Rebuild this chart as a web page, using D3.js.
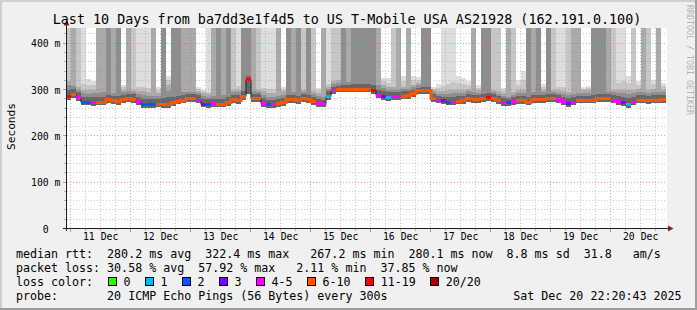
<!DOCTYPE html>
<html>
<head>
<meta charset="utf-8">
<script src="https://cdn.jsdelivr.net/npm/d3@7"></script>
<style>
  html, body { margin: 0; padding: 0; background: #f0f0f0; }
  svg { display: block; }
  text { font-family: "DejaVu Sans Mono", monospace; white-space: pre; }
</style>
</head>
<body>
<svg id="chart" width="697" height="310"></svg>
<script>
// 2 hour steps, Dec 10 22:20 -> Dec 20 22:20
const median = [
  285, 289, 282, 273, 273, 272, 273, 273, 278, 276,
  274, 278, 280, 278, 274, 267, 267, 267, 268, 267,
  267, 271, 275, 277, 280, 280, 277, 268, 267, 269,
  268, 268, 272, 279, 276, 284, 322, 280, 280, 270,
  267, 267, 269, 271, 279, 279, 276, 280, 278, 274,
  269, 268, 285, 297, 300, 300, 300, 301, 300, 300,
  300, 298, 288, 284, 282, 284, 284, 286, 287, 291,
  297, 298, 298, 281, 277, 276, 273, 273, 275, 276,
  280, 279, 279, 280, 283, 280, 276, 272, 271, 274,
  276, 276, 273, 279, 279, 279, 281, 280, 278, 274,
  270, 273, 277, 277, 277, 277, 280, 281, 281, 277,
  274, 272, 268, 273, 277, 277, 276, 277, 277, 279
]

// index into lossColors
const lossBucket = [
  6, 5, 4, 2, 2, 4, 5, 5, 5, 5,
  5, 5, 5, 5, 4, 2, 2, 2, 5, 5,
  5, 5, 5, 5, 5, 5, 4, 3, 2, 4,
  5, 5, 5, 5, 5, 5, 6, 5, 5, 4,
  2, 4, 5, 5, 5, 5, 5, 5, 5, 5,
  4, 4, 1, 4, 5, 5, 5, 5, 5, 5,
  5, 6, 4, 3, 1, 4, 4, 5, 5, 5,
  5, 5, 5, 5, 4, 3, 2, 4, 5, 5,
  5, 5, 5, 5, 6, 5, 5, 4, 2, 4,
  5, 5, 5, 5, 5, 5, 5, 5, 4, 4,
  3, 4, 5, 5, 5, 5, 5, 5, 5, 4,
  4, 3, 1, 4, 5, 5, 5, 5, 5, 5
]

// lowest ping
const minPing = [
  278, 282, 275, 266, 266, 265, 266, 266, 271, 269,
  267, 271, 273, 271, 267, 261, 261, 261, 262, 261,
  261, 264, 268, 270, 273, 273, 270, 262, 261, 262,
  262, 262, 265, 272, 269, 277, 290, 273, 273, 263,
  261, 261, 262, 264, 272, 272, 269, 273, 271, 267,
  262, 262, 278, 290, 294, 294, 294, 295, 294, 294,
  294, 291, 281, 277, 275, 277, 277, 279, 280, 284,
  290, 291, 291, 274, 270, 269, 266, 266, 268, 269,
  273, 272, 272, 273, 276, 273, 269, 265, 264, 267,
  269, 269, 266, 272, 272, 272, 274, 273, 271, 267,
  263, 266, 270, 270, 270, 270, 273, 274, 274, 270,
  267, 265, 261, 266, 270, 270, 269, 270, 270, 272
]

// top of the dark core of the smoke
const darkTop = [
  300, 302, 294, 285, 283, 283, 284, 285, 288, 287,
  286, 288, 290, 290, 285, 280, 280, 280, 280, 282,
  285, 284, 286, 288, 290, 290, 288, 280, 279, 280,
  280, 280, 284, 288, 288, 296, 330, 290, 290, 282,
  278, 278, 280, 282, 288, 288, 287, 290, 288, 284,
  280, 278, 296, 306, 308, 310, 310, 312, 312, 312,
  312, 310, 300, 296, 294, 294, 294, 296, 296, 300,
  304, 306, 306, 290, 286, 285, 284, 284, 286, 287,
  290, 289, 288, 290, 292, 290, 286, 282, 280, 284,
  286, 286, 284, 288, 288, 288, 290, 290, 288, 284,
  282, 284, 286, 286, 287, 288, 290, 290, 290, 288,
  286, 284, 282, 284, 288, 288, 287, 288, 288, 288
]

// top of the mid grey smoke
const midTop = [
  318, 312, 305, 300, 298, 300, 302, 303, 302, 300,
  298, 300, 302, 300, 296, 296, 294, 294, 292, 296,
  310, 296, 298, 300, 300, 300, 297, 292, 290, 292,
  294, 296, 298, 300, 300, 318, 334, 302, 300, 296,
  292, 292, 294, 296, 300, 300, 298, 300, 298, 296,
  292, 290, 306, 318, 320, 322, 324, 324, 326, 328,
  330, 326, 318, 310, 306, 306, 306, 306, 308, 310,
  314, 318, 320, 298, 296, 296, 298, 300, 300, 300,
  302, 300, 298, 300, 302, 300, 296, 292, 290, 294,
  300, 300, 298, 300, 302, 300, 302, 300, 298, 296,
  294, 296, 298, 298, 298, 300, 302, 302, 300, 300,
  298, 300, 300, 300, 302, 302, 300, 302, 300, 300
]

// top of the light haze
const hazeTop = [
  330, 325, 320, 322, 322, 318, 316, 318, 312, 310,
  312, 310, 314, 318, 316, 316, 314, 310, 305, 318,
  330, 312, 310, 312, 310, 312, 306, 300, 298, 300,
  306, 308, 310, 312, 314, 330, 340, 312, 310, 312,
  310, 312, 310, 306, 310, 312, 310, 310, 310, 310,
  304, 300, 316, 330, 334, 336, 340, 346, 340, 342,
  346, 340, 330, 326, 324, 330, 328, 330, 326, 330,
  328, 332, 334, 306, 312, 320, 326, 334, 330, 326,
  318, 312, 310, 312, 314, 312, 306, 304, 302, 306,
  320, 340, 312, 318, 320, 312, 312, 310, 312, 316,
  316, 310, 312, 306, 308, 310, 312, 312, 314, 320,
  330, 336, 330, 320, 318, 320, 316, 320, 314, 314
]

// how many smoke layers run off the top of the graph (0 = none)
const offScale = [
  2, 3, 2, 1, 0, 0, 3, 3, 4, 3,
  4, 0, 3, 2, 1, 1, 1, 3, 0, 4,
  0, 4, 4, 3, 3, 3, 0, 0, 1, 3,
  4, 3, 4, 2, 1, 4, 4, 3, 2, 1,
  1, 1, 3, 0, 4, 3, 4, 2, 4, 2,
  0, 3, 1, 2, 2, 4, 3, 4, 4, 4,
  4, 4, 3, 0, 0, 2, 3, 0, 3, 0,
  0, 4, 4, 0, 0, 1, 1, 1, 0, 0,
  0, 3, 0, 4, 4, 2, 2, 0, 3, 2,
  0, 0, 4, 3, 4, 0, 4, 2, 1, 1,
  2, 3, 3, 0, 0, 4, 4, 4, 3, 2,
  1, 1, 0, 2, 0, 3, 2, 0, 3, 0
]

const lossColors = ['#26ff00', '#00b8ff', '#0059ff', '#7e00ff', '#ff00ff', '#ff5500', '#ff0000', '#a10000']
const lossLabels = ['0', '1', '2', '3', '4-5', '6-10', '11-19', '20/20']
const yTicks = [0, 100, 200, 300, 400]

const title = 'Last 10 Days from ba7dd3e1f4d5 to US T-Mobile USA AS21928 (162.191.0.100)'
const legendRtt = 'median rtt:  280.2 ms avg  322.4 ms max   267.2 ms min  280.1 ms now  8.8 ms sd  31.8   am/s'
const legendLoss = 'packet loss: 30.58 % avg  57.92 % max   2.11 % min  37.85 % now'
const legendProbe = 'probe:       20 ICMP Echo Pings (56 Bytes) every 300s'
const stamp = 'Sat Dec 20 22:20:43 2025'


const W = 697
const H = 310
const HOUR = 3600 * 1000
const STEP = 2 * HOUR
const start = Date.UTC(2025, 11, 10, 22, 20, 43)
const end = Date.UTC(2025, 11, 20, 22, 20, 43)
const yMax = 434

const x = d3.scaleUtc().domain([start, end]).range([66, 666])
const y = d3.scaleLinear().domain([0, yMax]).range([228.5, 27.5])
const px = v => Math.floor(v) + 0.5

const steps = median.map((m, i) => ({
  t0: start + i * STEP,
  t1: start + (i + 1) * STEP,
  med: m,
  loss: lossBucket[i],
  lo: minPing[i],
  dark: darkTop[i],
  mid: midTop[i],
  haze: hazeTop[i],
  off: offScale[i],
}))

// smoke shades, outer (light) to inner (dark)
const shades = ['#dddddd', '#c6c6c6', '#aaaaaa', '#8e8e8e', '#666666']

function layerTop(d, k) {
  const top = yMax + 10
  if (k === 0) return d.off >= 1 ? top : d.haze
  if (k === 1) return d.off >= 2 ? top : (d.haze + d.mid) / 2
  if (k === 2) return d.off >= 3 ? top : d.mid
  if (k === 3) return d.off >= 4 ? top : (d.mid + d.dark) / 2
  return d.dark
}


function main() {
  const svg = d3.select('#chart')

  // Background and shaded frame
  svg.append('rect').attr('width', W).attr('height', H).attr('fill', '#f0f0f0')
  svg.append('path').attr('d', `M0,0H${W}V2H2V${H}H0Z`).attr('fill', '#cfcfcf')
  svg.append('path').attr('d', `M${W},${H}H0V${H - 2}H${W - 2}V0H${W}Z`).attr('fill', '#9e9e9e')

  // Canvas
  svg.append('defs').append('clipPath').attr('id', 'plot')
    .append('rect').attr('x', 66).attr('y', 28).attr('width', 601).attr('height', 201)
  svg.append('rect').attr('x', 66).attr('y', 28).attr('width', 601).attr('height', 201).attr('fill', '#fff')

  const plot = svg.append('g').attr('clip-path', 'url(#plot)')

  // Smoke
  shades.forEach((shade, k) => {
    plot.append('g').selectAll('rect')
      .data(steps)
      .join('rect')
      .attr('x', d => Math.round(x(d.t0)))
      .attr('width', d => Math.round(x(d.t1)) - Math.round(x(d.t0)))
      .attr('y', d => Math.round(y(layerTop(d, k))))
      .attr('height', d => Math.max(0, Math.round(y(d.lo)) - Math.round(y(layerTop(d, k)))))
      .attr('fill', shade)
  })

  // Grid
  const grid = svg.append('g').attr('fill', 'none').attr('stroke-width', 1).attr('stroke-dasharray', '1,2')
  const minorX = d3.utcHour.every(6).range(start, end).filter(t => t.getUTCHours() !== 0)
  const majorX = d3.utcDay.range(start, end)
  const minorY = d3.range(20, yMax, 20).filter(v => v % 100 !== 0)
  const majorY = yTicks.filter(v => v > 0)

  grid.selectAll('.vminor').data(minorX).join('line')
    .attr('x1', d => px(x(d))).attr('x2', d => px(x(d)))
    .attr('y1', 28).attr('y2', 228)
    .attr('stroke', 'rgba(143,143,143,0.45)')
  grid.selectAll('.hminor').data(minorY).join('line')
    .attr('x1', 67).attr('x2', 667)
    .attr('y1', d => px(y(d))).attr('y2', d => px(y(d)))
    .attr('stroke', 'rgba(143,143,143,0.45)')
  grid.selectAll('.vmajor').data(majorX).join('line')
    .attr('x1', d => px(x(d))).attr('x2', d => px(x(d)))
    .attr('y1', 28).attr('y2', 228)
    .attr('stroke', 'rgba(222,80,80,0.5)')
  grid.selectAll('.hmajor').data(majorY).join('line')
    .attr('x1', 67).attr('x2', 667)
    .attr('y1', d => px(y(d))).attr('y2', d => px(y(d)))
    .attr('stroke', 'rgba(222,80,80,0.5)')

  // Median: thin dark line, then loss coloured segments
  const medPts = steps.map(d => ({ t: d.t0, v: d.med })).concat([{ t: end, v: median[median.length - 1] }])
  const line = d3.line()
    .x(d => Math.round(x(d.t)))
    .y(d => px(y(d.v)))
    .curve(d3.curveStepAfter)
  plot.append('path').attr('d', line(medPts))
    .attr('fill', 'none').attr('stroke', '#202020').attr('stroke-width', 1)

  const runs = []
  steps.forEach(d => {
    const last = runs[runs.length - 1]
    if (last && last.loss === d.loss) last.items.push(d)
    else runs.push({ loss: d.loss, items: [d] })
  })
  plot.append('g').selectAll('path')
    .data(runs)
    .join('path')
    .attr('d', r => {
      const pts = r.items.map(d => ({ t: d.t0, v: d.med }))
      const lastItem = r.items[r.items.length - 1]
      pts.push({ t: lastItem.t1, v: lastItem.med })
      return line(pts)
    })
    .attr('fill', 'none')
    .attr('stroke', r => lossColors[r.loss])
    .attr('stroke-width', 3)

  // Axis ticks
  const ticks = svg.append('g').attr('stroke-width', 1)
  ticks.selectAll('.tminor').data(minorX).join('line')
    .attr('x1', d => px(x(d))).attr('x2', d => px(x(d)))
    .attr('y1', 229).attr('y2', 231).attr('stroke', '#b0b0b0')
  ticks.selectAll('.tmajor').data(majorX).join('line')
    .attr('x1', d => px(x(d))).attr('x2', d => px(x(d)))
    .attr('y1', 229).attr('y2', 232).attr('stroke', '#e08080')
  ticks.selectAll('.ymajor').data(yTicks).join('line')
    .attr('x1', 63).attr('x2', 66)
    .attr('y1', d => px(y(d))).attr('y2', d => px(y(d))).attr('stroke', '#e08080')
  ticks.selectAll('.yminor').data(minorY).join('line')
    .attr('x1', 64).attr('x2', 66)
    .attr('y1', d => px(y(d))).attr('y2', d => px(y(d))).attr('stroke', '#b0b0b0')

  // Axis lines and arrows
  svg.append('line').attr('x1', 63).attr('x2', 669).attr('y1', 228.5).attr('y2', 228.5)
    .attr('stroke', '#1f1f1f')
  svg.append('line').attr('x1', 66.5).attr('x2', 66.5).attr('y1', 231).attr('y2', 24)
    .attr('stroke', '#1f1f1f')
  svg.append('path').attr('d', 'M63.5,25.5L66.5,20L69.5,25.5Z').attr('fill', '#7f1f1f')
  svg.append('path').attr('d', 'M668,225.5L673.5,228.5L668,231.5Z').attr('fill', '#7f1f1f')

  // Axis labels
  const noons = d3.utcDay.range(start, end).map(d => d3.utcHour.offset(d, 12))
  const xAxis = svg.append('g')
    .attr('transform', 'translate(0,228.5)')
    .call(d3.axisBottom(x).tickValues(noons).tickSize(0).tickPadding(5).tickFormat(d3.utcFormat('%d Dec')))
  xAxis.select('.domain').remove()
  xAxis.selectAll('text').attr('font-size', '9.8px').attr('font-family', '"DejaVu Sans Mono", monospace').attr('fill', '#000')

  const yAxis = svg.append('g')
    .attr('transform', 'translate(66.5,0)')
    .call(d3.axisLeft(y).tickValues(yTicks).tickSize(0).tickPadding(6)
      .tickFormat(d => d === 0 ? '0  ' : d + ' m'))
  yAxis.select('.domain').remove()
  yAxis.selectAll('text').attr('font-size', '9.8px').attr('font-family', '"DejaVu Sans Mono", monospace')
    .attr('fill', '#000').attr('dy', '0.36em')

  // Titles
  svg.append('text').attr('x', 347).attr('y', 24).attr('text-anchor', 'middle')
    .attr('font-size', '13.4px').attr('fill', '#000').text(title)
  svg.append('text').attr('transform', 'translate(15,126.5) rotate(-90)').attr('text-anchor', 'middle')
    .attr('font-size', '11.2px').attr('fill', '#000').text('Seconds')
  svg.append('text').attr('transform', 'translate(687,5) rotate(90)')
    .attr('font-size', '8.3px').attr('fill', '#b4b4b4').text('RRDTOOL / TOBI OETIKER')

  // Legend
  const legend = svg.append('g').attr('font-size', '11.65px').attr('fill', '#000')
  const rowY = [258.3, 272.1, 286, 299.8]
  const charW = 11.65 * 0.602
  legend.append('text').attr('x', 16).attr('y', rowY[0]).text(legendRtt)
  legend.append('text').attr('x', 16).attr('y', rowY[1]).text(legendLoss)
  legend.append('text').attr('x', 16).attr('y', rowY[2]).text('loss color:')
  legend.append('text').attr('x', 16).attr('y', rowY[3]).text(legendProbe)
  legend.append('text').attr('x', 681.5).attr('y', rowY[3]).attr('text-anchor', 'end').text(stamp)

  let bx = 108.5
  lossLabels.forEach((label, i) => {
    legend.append('rect')
      .attr('x', Math.floor(bx) + 0.5).attr('y', 277.5).attr('width', 8).attr('height', 8)
      .attr('fill', lossColors[i]).attr('stroke', '#000').attr('stroke-width', 1)
    legend.append('text').attr('x', bx + 15).attr('y', rowY[2]).text(label)
    bx += 15 + label.length * charW + 15
  })
}


window.addEventListener('DOMContentLoaded', main)
</script>
</body>
</html>
